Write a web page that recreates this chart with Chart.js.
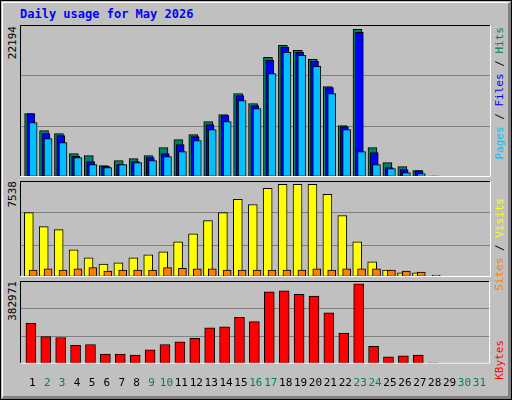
<!DOCTYPE html>
<html>
<head>
<meta charset="utf-8">
<script src="https://cdn.jsdelivr.net/npm/chart.js@4/dist/chart.umd.min.js"></script>
<style>
  body { margin: 0; background: #fff; }
  #frame { position: absolute; left: 0; top: 0; width: 510px; height: 398px; border: 1px solid #000; background: #c0c0c0; }
  #bevel { position: absolute; left: 1px; top: 1px; width: 505px; height: 393px; border-right: 3px solid #808080; border-bottom: 3px solid #808080; border-left: 1px solid #fff; border-top: 1px solid #fff; }
  .cv { position: absolute; }
  .t { position: absolute; font: bold 12px "DejaVu Sans Mono", monospace; color: #0000ff; }
  .v { position: absolute; writing-mode: vertical-rl; transform: rotate(180deg); font: 11px "DejaVu Sans Mono", monospace; white-space: nowrap; }
</style>
</head>
<body>
<div id="frame"><div id="bevel"></div></div>
<div class="t" style="left:20px;top:7px">Daily usage for May 2026</div>
<div class="v" style="left:6px;top:26px;color:#000">22194</div>
<div class="v" style="left:6px;top:181px;color:#000">7538</div>
<div class="v" style="left:6px;top:281px;color:#000">382971</div>
<div class="v" style="left:493px;top:27px"><span style="color:#00c0ff">Pages</span><span style="color:#000"> / </span><span style="color:#0000ff">Files</span><span style="color:#000"> / </span><span style="color:#00805c">Hits</span></div>
<div class="v" style="left:493px;top:198px"><span style="color:#ff8000">Sites</span><span style="color:#000"> / </span><span style="color:#ffff00">Visits</span></div>
<div class="v" style="left:493px;top:340px;color:#ff0000">KBytes</div>
<canvas id="c1" class="cv" style="left:20px;top:25px;width:471px;height:152px"></canvas>
<canvas id="c2" class="cv" style="left:20px;top:181px;width:471px;height:96px"></canvas>
<canvas id="c3" class="cv" style="left:20px;top:281px;width:471px;height:114px"></canvas>
<script>
const days = Array.from({length: 31}, (_, i) => i + 1);
const weekend = [2, 3, 9, 10, 16, 17, 23, 24, 30, 31];

const hits  = [9540,6980,6530,3510,3210,1710,2460,2760,3210,4420,5620,6380,8330,9390,12550,11040,17970,19780,19030,17670,13600,7730,22194,4420,2160,1560,950,150];
const files = [9540,6530,6220,3110,2310,1610,1860,2310,2910,3510,4870,6070,7880,9240,12250,10740,17520,19480,18720,17370,13450,7580,21740,3660,1410,1100,950,150];
const pages = [8180,5770,5170,2910,1860,1410,1860,2160,2460,3060,3820,5470,7130,8330,11500,10290,15560,18720,18270,16620,12550,7130,3820,1860,1260,650,500,150];
const visits = [5240,4100,3850,2210,1560,1060,1150,1560,1800,2050,2870,3520,4590,5240,6310,5900,7210,7538,7538,7538,6720,5000,2870,1230,570,330,330,80];
const sites  = [570,660,570,660,760,490,570,570,570,760,710,660,660,570,570,570,570,570,570,660,570,660,660,660,570,490,410,160];
const kbytes = [193600,130500,126300,88400,92600,46300,46300,42100,67300,92600,105200,122100,172600,176800,223100,202000,345100,349300,332500,324100,244100,147300,382971,84200,33700,37900,42100,4200];

const pts = (arr, off) => arr.map((v, i) => ({x: i + 1 + off, y: v}));

const frame = {
  id: 'frame',
  afterDraw(c) {
    const a = c.chartArea, g = c.ctx;
    g.save(); g.lineWidth = 1;
    g.strokeStyle = '#000';
    g.beginPath(); g.moveTo(a.left + 0.5, a.bottom); g.lineTo(a.left + 0.5, a.top + 0.5); g.lineTo(a.right, a.top + 0.5); g.stroke();
    g.strokeStyle = '#fff';
    g.beginPath(); g.moveTo(a.right - 0.5, a.top); g.lineTo(a.right - 0.5, a.bottom - 0.5); g.lineTo(a.left, a.bottom - 0.5); g.stroke();
    g.restore();
  }
};

function make(id, datasets, ymax, showX) {
  return new Chart(document.getElementById(id), {
    type: 'bar',
    data: { datasets },
    options: {
      animation: false, responsive: false, devicePixelRatio: 1,
      layout: { padding: 0 },
      plugins: { legend: { display: false }, tooltip: { enabled: false } },
      scales: {
        x: {
          display: showX,
          type: 'linear', min: 0.17, max: 31.72, offset: false,
          afterBuildTicks: s => { s.ticks = days.map(d => ({value: d})); },
          grid: { display: false }, border: { display: false },
          ticks: {
            autoSkip: false, maxRotation: 0, padding: 5,
            font: { family: 'DejaVu Sans Mono', size: 11 },
            color: c => weekend.includes(c.tick.value) ? '#00805c' : '#000'
          }
        },
        y: {
          min: 0, max: ymax, afterBuildTicks: s => { s.ticks = [0, 1, 2, 3].map(k => ({value: ymax * k / 3})); },
          ticks: { display: false }, border: { display: false },
          grid: { color: '#808080', drawTicks: false, lineWidth: 1 }
        }
      }
    },
    plugins: [frame]
  });
}

const bar = (data, color, w, order) => ({ data, backgroundColor: color, borderColor: '#000', borderWidth: 1, borderSkipped: false, barThickness: w, grouped: false, order });

document.querySelectorAll('canvas').forEach(c => { c.width = c.offsetWidth; c.height = c.offsetHeight; });

make('c1', [
  bar(pts(hits, -0.22), '#00805c', 9, 3),
  bar(pts(files, -0.1), '#0000ff', 8, 2),
  bar(pts(pages, 0.05), '#00c0ff', 8, 1)
], 22845, false);

make('c2', [
  bar(pts(visits, -0.24), '#ffff00', 9, 2),
  bar(pts(sites, 0.05), '#ff8000', 8, 1)
], 7810, false);

make('c3', [
  bar(pts(kbytes, -0.1), '#ff0000', 10, 1)
], 397000, true);
</script>
</body>
</html>
